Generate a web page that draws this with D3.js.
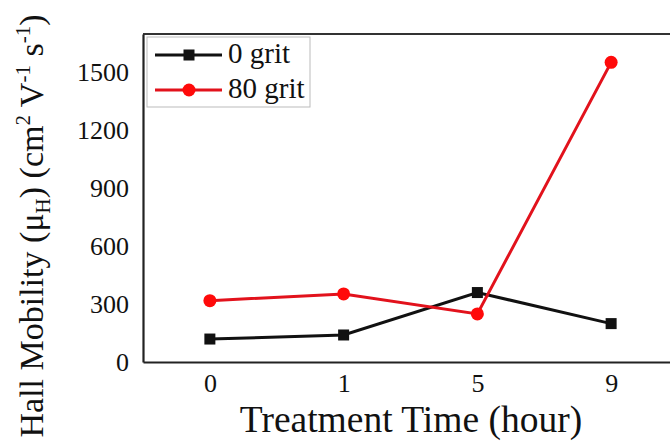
<!DOCTYPE html>
<html>
<head>
<meta charset="utf-8">
<script src="https://cdn.jsdelivr.net/npm/d3@7"></script>
<style>
  html, body { margin: 0; padding: 0; background: #fff; }
  svg { display: block; }
  text { font-family: "Liberation Serif", "Times New Roman", serif; fill: #111; }
</style>
</head>
<body>
<svg id="chart" width="670" height="444"></svg>
<script>
// Treatment times (categorical x positions)
const hours = ["0", "1", "5", "9"];
// Hall mobility, cm^2 V^-1 s^-1
const grit0 = [119, 140, 360, 199];
const grit80 = [318, 353, 249, 1553];
const yTicks = [0, 300, 600, 900, 1200, 1500];

const series = [
  { name: "0 grit", values: grit0, color: "#111111", marker: "square" },
  { name: "80 grit", values: grit80, color: "#e2121c", marker: "circle" }
];

const svg = d3.select("#chart");
const margin = { left: 143, top: 34, bottom: 362, right: 678 };

const x = d3.scalePoint().domain(hours).range([margin.left, margin.right]).padding(0.5);
const y = d3.scaleLinear().domain([0, 1700]).range([margin.bottom, margin.top]);

// frame: top line, left axis, bottom axis
svg.append("line")
  .attr("x1", margin.left).attr("x2", 670)
  .attr("y1", margin.top).attr("y2", margin.top)
  .attr("stroke", "#333").attr("stroke-width", 2);

const yAxis = svg.append("g")
  .attr("transform", `translate(${margin.left},0)`)
  .call(d3.axisLeft(y).tickValues(yTicks).tickSize(0).tickPadding(14).tickFormat(d3.format("d")));
yAxis.select(".domain").attr("stroke", "#222").attr("stroke-width", 2.2);
yAxis.selectAll("text").attr("font-size", 26).attr("fill", "#111")
  .style("font-family", "'Liberation Serif', serif");

const xAxis = svg.append("g")
  .attr("transform", `translate(0,${margin.bottom})`)
  .call(d3.axisBottom(x).tickSize(0).tickPadding(12));
xAxis.select(".domain").attr("stroke", "#222").attr("stroke-width", 2.2);
xAxis.selectAll("text").attr("font-size", 26).attr("fill", "#111")
  .style("font-family", "'Liberation Serif', serif");

// axis titles
svg.append("text")
  .attr("x", 411)
  .attr("y", 432)
  .attr("text-anchor", "middle")
  .attr("font-size", 37.5)
  .text("Treatment Time (hour)");

const yl = svg.append("text")
  .attr("transform", "translate(43,226) rotate(-90)")
  .attr("text-anchor", "middle")
  .attr("font-size", 34);
yl.append("tspan").text("Hall Mobility (μ");
yl.append("tspan").attr("font-size", 21).attr("dy", 7).text("H");
yl.append("tspan").attr("dy", -7).text(") (cm");
yl.append("tspan").attr("font-size", 21).attr("dy", -13).text("2");
yl.append("tspan").attr("dy", 13).text(" V");
yl.append("tspan").attr("font-size", 21).attr("dy", -13).text("-1");
yl.append("tspan").attr("dy", 13).text(" s");
yl.append("tspan").attr("font-size", 21).attr("dy", -13).text("-1");
yl.append("tspan").attr("dy", 13).text(")");

// series lines and markers
const line = d3.line().x((d, i) => x(hours[i])).y(d => y(d));

series.forEach(s => {
  svg.append("path")
    .datum(s.values)
    .attr("d", line)
    .attr("fill", "none")
    .attr("stroke", s.color)
    .attr("stroke-width", 3);
});

function drawMarker(g, type, cx, cy, color) {
  if (type === "square") {
    g.append("rect")
      .attr("x", cx - 5.5).attr("y", cy - 5.5)
      .attr("width", 11).attr("height", 11)
      .attr("fill", color);
  } else {
    g.append("circle")
      .attr("cx", cx).attr("cy", cy).attr("r", 6.5)
      .attr("fill", "#ff0a0a");
  }
}

series.forEach(s => {
  const g = svg.append("g");
  s.values.forEach((v, i) => drawMarker(g, s.marker, x(hours[i]), y(v), s.color));
});

// legend
const legend = svg.append("g");
legend.append("rect")
  .attr("x", 147).attr("y", 37).attr("width", 163).attr("height", 70)
  .attr("fill", "#fff").attr("stroke", "#bbb").attr("stroke-width", 1);
series.forEach((s, i) => {
  const ly = 55 + i * 35;
  legend.append("line")
    .attr("x1", 155).attr("x2", 222).attr("y1", ly).attr("y2", ly)
    .attr("stroke", s.color).attr("stroke-width", 3);
  drawMarker(legend, s.marker, 189, ly, s.color);
  legend.append("text")
    .attr("x", 228).attr("y", ly + 8)
    .attr("font-size", 29)
    .text(s.name);
});
</script>
</body>
</html>
